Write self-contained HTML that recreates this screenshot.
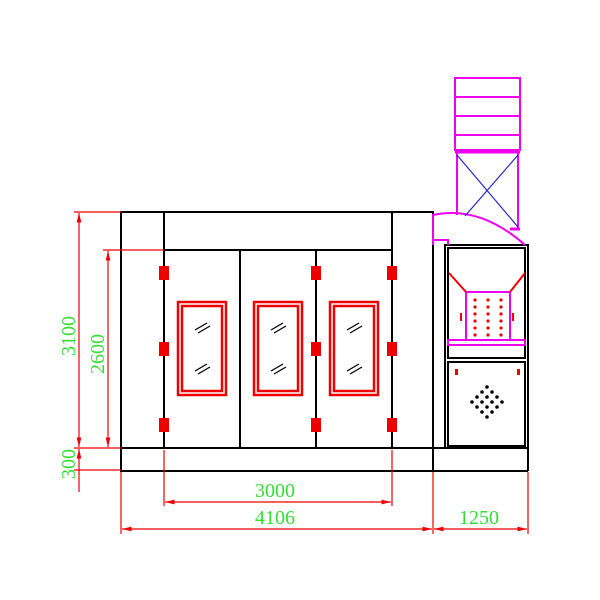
<!DOCTYPE html>
<html><head><style>body{margin:0;background:#fff}svg{display:block}</style></head><body>
<svg width="600" height="600" xmlns="http://www.w3.org/2000/svg" font-family="Liberation Serif, serif">
<defs>
<marker id="a" markerWidth="8" markerHeight="6" refX="8" refY="3" orient="auto-start-reverse"><path d="M0,1 L8,3 L0,5 Z" fill="#e00"/></marker>
</defs>
<g stroke="#000" stroke-width="2" fill="none">
<rect x="121" y="212" width="312" height="259"/>
<line x1="121" y1="448" x2="528" y2="448"/>
<line x1="121" y1="471" x2="528" y2="471"/>
<line x1="528" y1="448" x2="528" y2="471"/>
<line x1="164" y1="212" x2="164" y2="448"/>
<line x1="392" y1="212" x2="392" y2="448"/>
<line x1="164" y1="250" x2="392" y2="250"/>
<line x1="240" y1="250" x2="240" y2="448"/>
<line x1="316" y1="250" x2="316" y2="448"/>
<rect x="445" y="245" width="83" height="203"/>
<rect x="448" y="248" width="77" height="110"/>
<rect x="448" y="362" width="77" height="84"/>
</g>
<g stroke="#e00" stroke-width="2.5" fill="none">
<rect x="178" y="302" width="48" height="93"/><rect x="182" y="306" width="40" height="85"/>
<rect x="254" y="302" width="48" height="93"/><rect x="258" y="306" width="40" height="85"/>
<rect x="330" y="302" width="48" height="93"/><rect x="334" y="306" width="40" height="85"/>
</g>
<g stroke="#000" stroke-width="1.3">
<path d="M195,330 l12,-7 M198,333 l12,-7 M195,371 l12,-7 M198,374 l12,-7"/>
<path d="M271,330 l12,-7 M274,333 l12,-7 M271,371 l12,-7 M274,374 l12,-7"/>
<path d="M347,330 l12,-7 M350,333 l12,-7 M347,371 l12,-7 M350,374 l12,-7"/>
</g>
<g fill="#e00">
<rect x="159" y="266" width="10" height="14"/><rect x="159" y="342" width="10" height="14"/><rect x="159" y="418" width="10" height="14"/>
<rect x="311" y="266" width="10" height="14"/><rect x="311" y="342" width="10" height="14"/><rect x="311" y="418" width="10" height="14"/>
<rect x="387" y="266" width="10" height="14"/><rect x="387" y="342" width="10" height="14"/><rect x="387" y="418" width="10" height="14"/>
</g>
<g stroke="#e0e" stroke-width="2" fill="none">
<rect x="455" y="78" width="65" height="72"/>
<line x1="455" y1="97" x2="520" y2="97"/><line x1="455" y1="116" x2="520" y2="116"/><line x1="455" y1="135" x2="520" y2="135"/>
<line x1="455" y1="152" x2="520" y2="152" stroke-width="3"/>
<line x1="457" y1="152" x2="457" y2="215"/><line x1="518" y1="152" x2="518" y2="230"/>
<line x1="510" y1="229" x2="520" y2="229" stroke-width="3"/>
<path d="M433,245 L433,215 Q480,205 525,245"/>
<path d="M433,245 L433,240 L448,240 L448,245"/>
<rect x="448" y="340" width="77" height="5"/>
<path d="M466,292 V340 M510,292 V340 M466,292 H510"/>
</g>
<path d="M457,155 L518,227 M518,155 L465,216" stroke="#22c" stroke-width="1.2"/>
<g stroke="#e00" stroke-width="2"><path d="M449,273 L466,292 M525,273 L510,292"/><path d="M461,313 v8 M513,313 v8"/></g>
<g fill="#e00">
<g id="c"><circle cx="475" cy="300" r="1.6"/><circle cx="475" cy="307" r="1.6"/><circle cx="475" cy="314" r="1.6"/><circle cx="475" cy="321" r="1.6"/><circle cx="475" cy="328" r="1.6"/><circle cx="475" cy="335" r="1.6"/></g>
<use href="#c" x="13"/><use href="#c" x="26"/>
<rect x="455" y="369" width="3" height="6"/><rect x="517" y="369" width="3" height="6"/>
</g>
<g fill="#000">
<circle cx="487" cy="387" r="1.8"/><circle cx="482" cy="392" r="1.8"/><circle cx="492" cy="392" r="1.8"/>
<circle cx="477" cy="397" r="1.8"/><circle cx="487" cy="397" r="1.8"/><circle cx="497" cy="397" r="1.8"/>
<circle cx="472" cy="402" r="1.8"/><circle cx="482" cy="402" r="1.8"/><circle cx="492" cy="402" r="1.8"/><circle cx="502" cy="402" r="1.8"/>
<circle cx="477" cy="407" r="1.8"/><circle cx="487" cy="407" r="1.8"/><circle cx="497" cy="407" r="1.8"/>
<circle cx="482" cy="412" r="1.8"/><circle cx="492" cy="412" r="1.8"/><circle cx="487" cy="417" r="1.8"/>
</g>
<g stroke="#e00" stroke-width="1.2" fill="none">
<line x1="74" y1="212" x2="121" y2="212"/><line x1="103" y1="250" x2="164" y2="250"/>
<line x1="74" y1="448" x2="121" y2="448"/><line x1="74" y1="470" x2="121" y2="470"/>
<line x1="79" y1="213" x2="79" y2="447" marker-start="url(#a)" marker-end="url(#a)"/>
<line x1="108" y1="251" x2="108" y2="447" marker-start="url(#a)" marker-end="url(#a)"/>
<line x1="79" y1="449" x2="79" y2="492" marker-start="url(#a)"/>
<line x1="164" y1="450" x2="164" y2="506"/><line x1="392" y1="450" x2="392" y2="506"/>
<line x1="121" y1="472" x2="121" y2="534"/><line x1="433" y1="472" x2="433" y2="534"/><line x1="528" y1="472" x2="528" y2="534"/>
<line x1="165" y1="502" x2="391" y2="502" marker-start="url(#a)" marker-end="url(#a)"/>
<line x1="122" y1="529" x2="432" y2="529" marker-start="url(#a)" marker-end="url(#a)"/>
<line x1="434" y1="529" x2="527" y2="529" marker-start="url(#a)" marker-end="url(#a)"/>
</g>
<g fill="#3d3" font-size="20">
<text x="255" y="497">3000</text>
<text x="255" y="524">4106</text>
<text x="459" y="524">1250</text>
<text transform="translate(75,356) rotate(-90)">3100</text>
<text transform="translate(104,374) rotate(-90)">2600</text>
<text transform="translate(75,479) rotate(-90)">300</text>
</g>
</svg>
</body></html>
